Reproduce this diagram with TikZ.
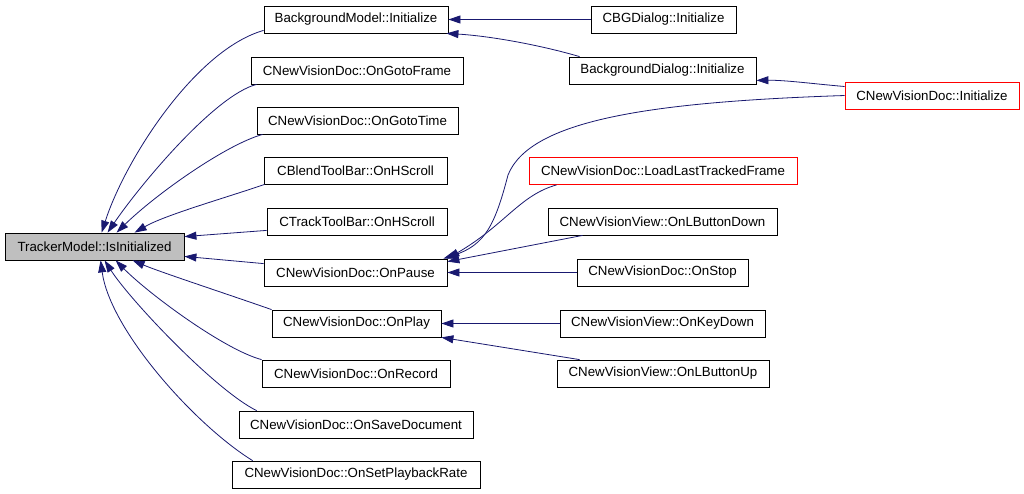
\documentclass[tikz,border=0pt]{standalone}
\usepackage{fontspec}
\setmainfont{Liberation Sans}
\usetikzlibrary{arrows.meta,calc}
\definecolor{edgec}{HTML}{191970}
\definecolor{boxgray}{HTML}{BFBFBF}
\begin{document}
\begin{tikzpicture}[x=1pt,y=-1pt,
 box/.style={draw=black, line width=0.8pt, minimum height=27pt, inner sep=0pt, font=\fontsize{13.3}{15}\selectfont, anchor=center},
 redbox/.style={box, draw=red},
 edge/.style={draw=edgec, line width=0.8pt, -{Triangle[length=12pt,width=8pt]}}]
\useasboundingbox[fill=white] (0,0) rectangle (1024,493);
\node[box, fill=boxgray, minimum width=179pt] (t) at (94.5,246.5) {TrackerModel::IsInitialized};
\node[box, minimum width=184pt] (bm) at (356,19.5) {BackgroundModel::Initialize};
\node[box, minimum width=212pt] (gf) at (357,70.5) {CNewVisionDoc::OnGotoFrame};
\node[box, minimum width=201pt] (gt) at (357.5,120.5) {CNewVisionDoc::OnGotoTime};
\node[box, minimum width=183pt] (cb) at (355.5,170.5) {CBlendToolBar::OnHScroll};
\node[box, minimum width=180pt] (ct) at (357,221.5) {CTrackToolBar::OnHScroll};
\node[box, minimum width=183pt] (op) at (355.5,272.5) {CNewVisionDoc::OnPause};
\node[box, minimum width=169pt] (opl) at (356.5,323.5) {CNewVisionDoc::OnPlay};
\node[box, minimum width=188pt] (orc) at (356,373.5) {CNewVisionDoc::OnRecord};
\node[box, minimum width=234pt] (osd) at (356,424.5) {CNewVisionDoc::OnSaveDocument};
\node[box, minimum width=248pt] (osp) at (356,474.5) {CNewVisionDoc::OnSetPlaybackRate};
\node[box, minimum width=145pt] (cbg) at (663.5,19.5) {CBGDialog::Initialize};
\node[box, minimum width=187pt] (bd) at (662.5,70.5) {BackgroundDialog::Initialize};
\node[redbox, minimum width=174pt] (nvi) at (932,95.5) {CNewVisionDoc::Initialize};
\node[redbox, minimum width=268pt] (ll) at (663,171) {CNewVisionDoc::LoadLastTrackedFrame};
\node[box, minimum width=229pt] (ld) at (662.5,221.5) {CNewVisionView::OnLButtonDown};
\node[box, minimum width=171pt] (os) at (662.5,272.5) {CNewVisionDoc::OnStop};
\node[box, minimum width=205pt] (okd) at (662.5,323.5) {CNewVisionView::OnKeyDown};
\node[box, minimum width=212pt] (lu) at (663,373.5) {CNewVisionView::OnLButtonUp};
% edges into TrackerModel::IsInitialized
\draw[edge] ($(bm.south west)+(0,-3)$) .. controls (195,50) and (125,160) .. ($(t.north west)+(97,0)$);
\draw[edge] ($(gf.south west)+(6,0)$) .. controls (215,95) and (140,185) .. ($(t.north west)+(103,0)$);
\draw[edge] ($(gt.south west)+(6,0)$) .. controls (225,145) and (155,195) .. ($(t.north west)+(112,0)$);
\draw[edge] ($(cb.south west)+(1,0)$) .. controls (225,198) and (165,215) .. ($(t.north west)+(130,0)$);
\draw[edge] ($(ct.south west)+(0,-5)$) -- ($(t.north east)+(0,4)$);
\draw[edge] ($(op.north west)+(0,5)$) -- ($(t.south east)+(0,-4)$);
\draw[edge] (opl.north west) .. controls (230,295) and (160,272) .. ($(t.south west)+(128,0)$);
\draw[edge] (orc.north west) .. controls (225,350) and (150,295) .. ($(t.south west)+(111,0)$);
\draw[edge] ($(osd.north west)+(18,0)$) .. controls (215,390) and (130,300) .. ($(t.south west)+(100,0)$);
\draw[edge] ($(osp.north west)+(21,0)$) .. controls (195,425) and (110,330) .. ($(t.south west)+(96,0)$);
% right side
\draw[edge] (cbg.west) -- (bm.east);
\draw[edge] ($(bd.north west)+(11,0)$) .. controls (540,45) and (490,36) .. ($(bm.south east)+(-2,0)$);
\draw[edge] ($(nvi.west)+(0,-9)$) .. controls (815,84) and (785,80) .. ($(bd.south east)+(0,-4)$);
\draw[edge] (nvi.west) .. controls (650,102) and (530,120) .. (508,175) .. controls (495,225) and (485,245) .. ($(op.north east)+(-4,0)$);
\draw[edge] ($(ll.south west)+(28,0)$) .. controls (520,195) and (505,225) .. (op.north east);
\draw[edge] ($(ld.south west)+(35,0)$) -- ($(op.north east)+(0,3)$);
\draw[edge] (os.west) -- (op.east);
\draw[edge] (okd.west) -- (opl.east);
\draw[edge] ($(lu.north west)+(23,0)$) -- (opl.south east);
\end{tikzpicture}
\end{document}
